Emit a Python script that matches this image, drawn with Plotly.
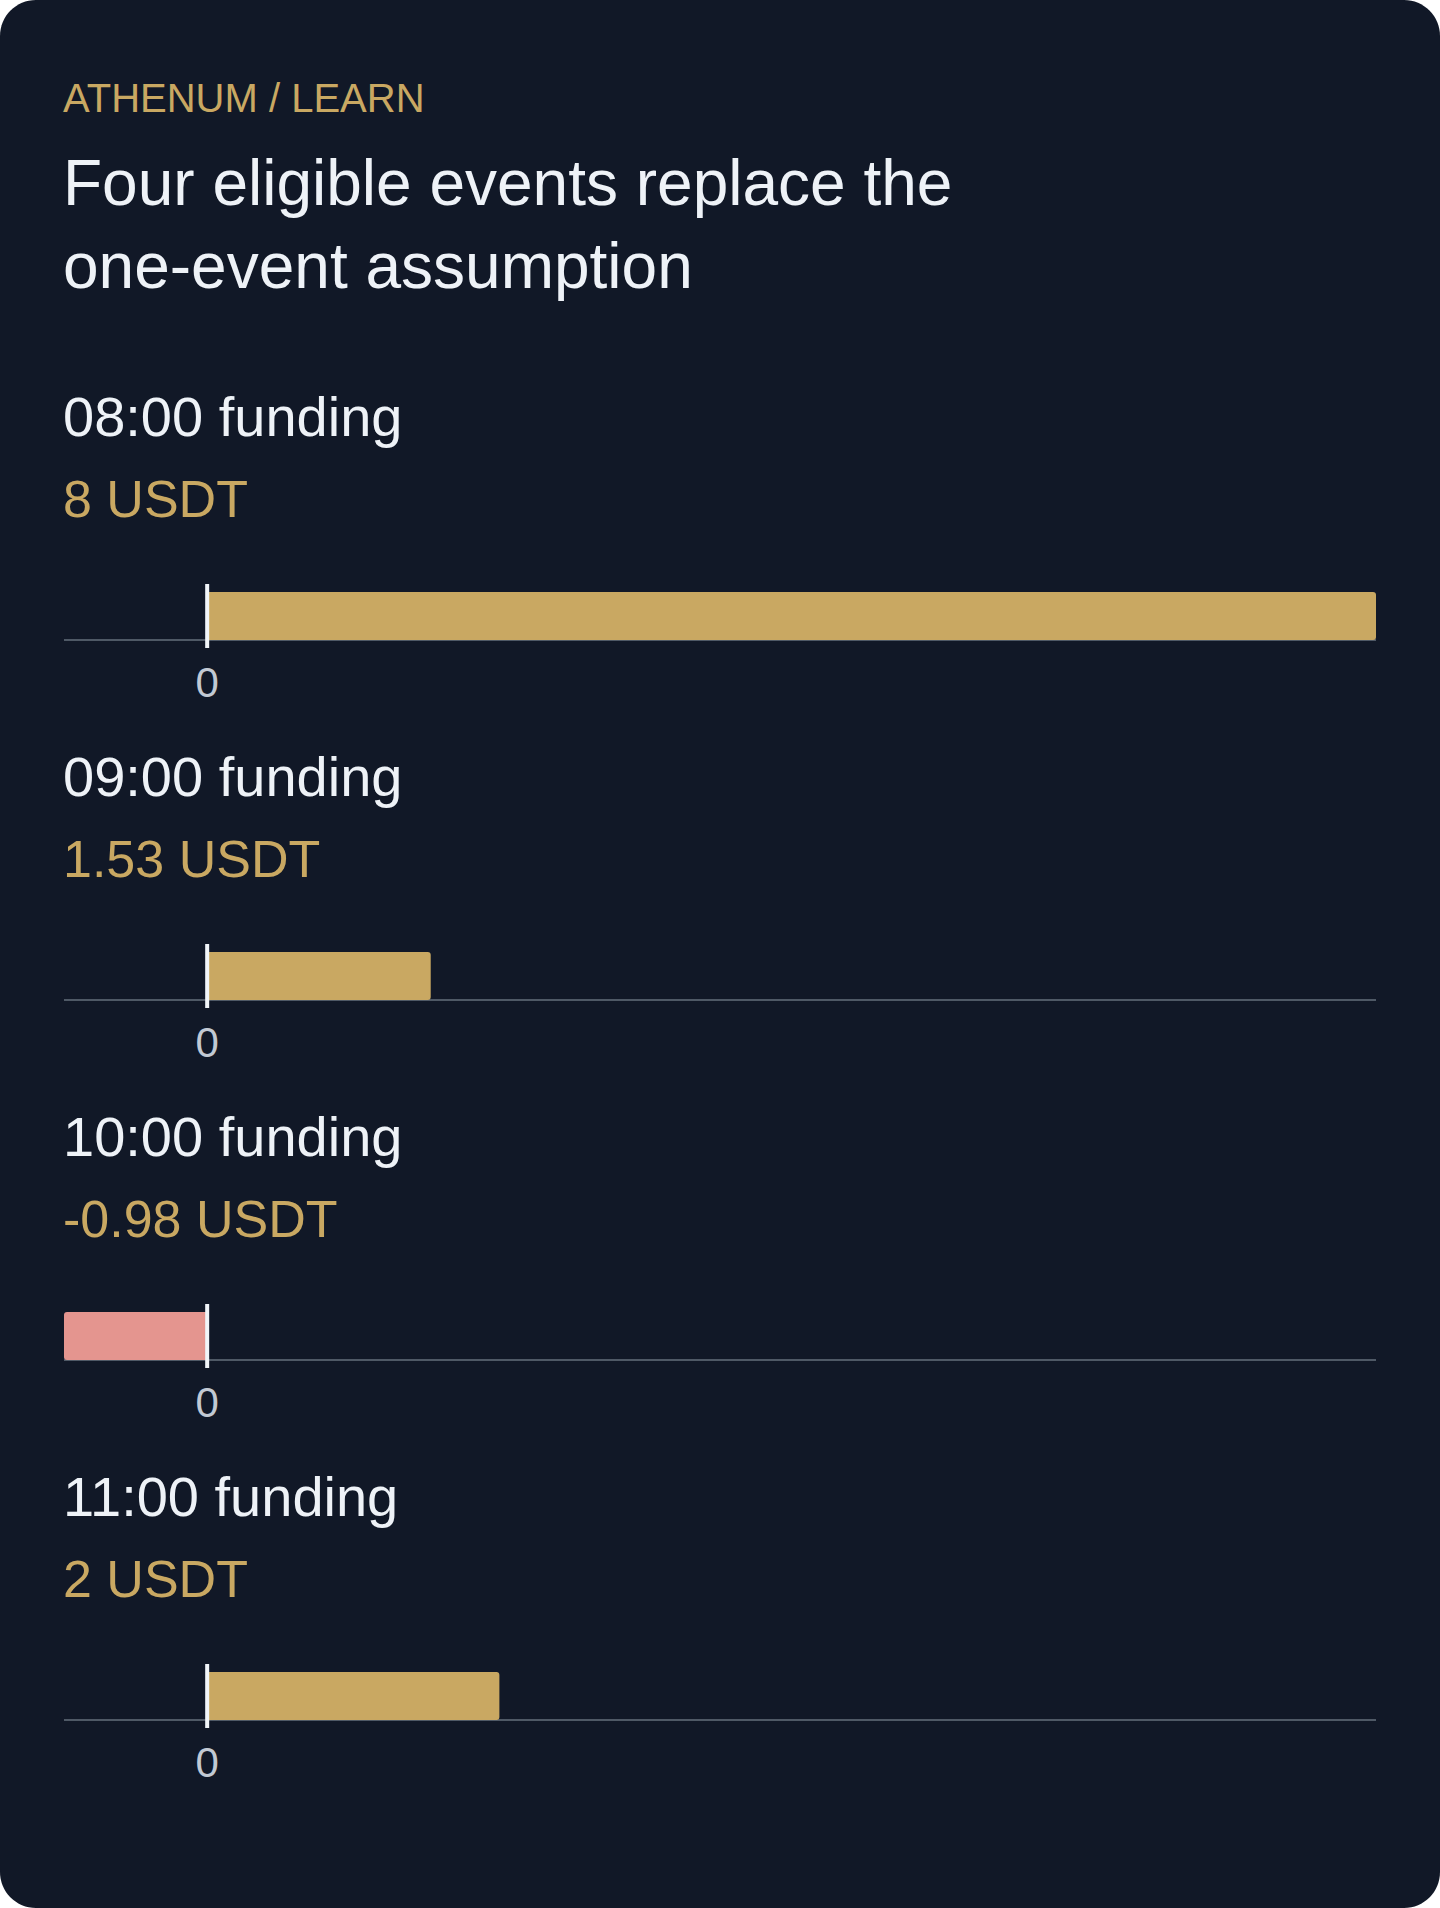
import plotly.graph_objects as go

######### DATA #########

eyebrow = "ATHENUM / LEARN"
title_lines = ["Four eligible events replace the", "one-event assumption"]
event_names = ["08:00 funding", "09:00 funding", "10:00 funding", "11:00 funding"]
amounts = [8, 1.53, -0.98, 2]
amount_labels = ["8 USDT", "1.53 USDT", "-0.98 USDT", "2 USDT"]
tick_values = [0]

######### STYLE #########

W, H = 1440, 1908
FONT = "Liberation Sans, Arial, Helvetica, sans-serif"
CARD = "#111827"
GOLD = "#c9a862"
RED = "#e4958f"
TEXT = "#eef2f7"
TICK = "#c2c9d3"
BASE = "#4f5966"
ZERO = "#f1f5f9"

LEFT, RIGHT = 64, 1376          # plot left / right edge in px
TEXT_X = 61                     # text anchor (annotation box adds a little padding)
PANEL_TOP = 584                 # first plot area top in px
PANEL_H = 64
STEP = 360
BAR_W = 0.75


def py(px):
    # page pixel (from top) -> paper y
    return 1 - px / H


fig = go.Figure()

x_range = [min(amounts), max(amounts)]
shapes = []
annotations = []

# rounded card behind everything
rx, ry = 36 / W, 36 / H
k = 0.5523
card_path = (
    f"M {rx},0 L {1 - rx},0 "
    f"C {1 - rx + rx * k},0 1,{ry - ry * k} 1,{ry} "
    f"L 1,{1 - ry} "
    f"C 1,{1 - ry + ry * k} {1 - rx + rx * k},1 {1 - rx},1 "
    f"L {rx},1 "
    f"C {rx - rx * k},1 0,{1 - ry + ry * k} 0,{1 - ry} "
    f"L 0,{ry} "
    f"C 0,{ry - ry * k} {rx - rx * k},0 {rx},0 Z"
)
shapes.append(dict(type="path", path=card_path, xref="paper", yref="paper",
                   fillcolor=CARD, line=dict(width=0), layer="below"))

annotations.append(dict(text=eyebrow, x=TEXT_X / W, y=py(98), xref="paper", yref="paper",
                        xanchor="left", yanchor="middle", showarrow=False,
                        font=dict(family=FONT, size=40, color=GOLD)))
annotations.append(dict(text="<br>".join(title_lines), x=TEXT_X / W, y=py(224),
                        xref="paper", yref="paper", xanchor="left", yanchor="middle",
                        align="left", showarrow=False,
                        font=dict(family=FONT, size=64, color=TEXT)))

for i, (name, val, lab) in enumerate(zip(event_names, amounts, amount_labels)):
    n = "" if i == 0 else str(i + 1)
    top = PANEL_TOP + STEP * i

    fig.add_trace(go.Bar(
        x=[val], y=[0], orientation="h", width=BAR_W,
        marker=dict(color=GOLD if val >= 0 else RED, line=dict(width=0)),
        xaxis="x" + n, yaxis="y" + n, showlegend=False, hoverinfo="skip"
    ))

    fig.layout["xaxis" + n] = dict(
        domain=[LEFT / W, RIGHT / W], range=x_range, anchor="y" + n,
        tickvals=tick_values, ticks="", showgrid=False, zeroline=False, showline=False,
        tickfont=dict(family=FONT, size=42, color=TICK), ticklabelstandoff=6,
        fixedrange=True
    )
    fig.layout["yaxis" + n] = dict(
        domain=[py(top + PANEL_H), py(top)], range=[-0.5, 0.5], anchor="x" + n,
        visible=False, fixedrange=True
    )

    # baseline under the bar
    shapes.append(dict(type="line", xref=f"x{n} domain", x0=0, x1=1,
                       yref="y" + n, y0=-BAR_W / 2, y1=-BAR_W / 2,
                       line=dict(color=BASE, width=2), layer="below"))
    # zero marker
    shapes.append(dict(type="line", xref="x" + n, x0=0, x1=0,
                       yref=f"y{n} domain", y0=0, y1=1,
                       line=dict(color=ZERO, width=4), layer="above"))

    annotations.append(dict(text=name, x=TEXT_X / W, y=py(top - 168), xref="paper", yref="paper",
                            xanchor="left", yanchor="middle", showarrow=False,
                            font=dict(family=FONT, size=56, color=TEXT)))
    annotations.append(dict(text=lab, x=TEXT_X / W, y=py(top - 85), xref="paper", yref="paper",
                            xanchor="left", yanchor="middle", showarrow=False,
                            font=dict(family=FONT, size=52, color=GOLD)))

fig.update_layout(
    width=W, height=H,
    margin=dict(l=0, r=0, t=0, b=0),
    paper_bgcolor="white", plot_bgcolor="rgba(0,0,0,0)",
    barcornerradius=3,
    shapes=shapes, annotations=annotations,
    font=dict(family=FONT),
)

fig.write_html("out.html", config={"displayModeBar": False},
               post_script="document.body.style.margin='0';")
